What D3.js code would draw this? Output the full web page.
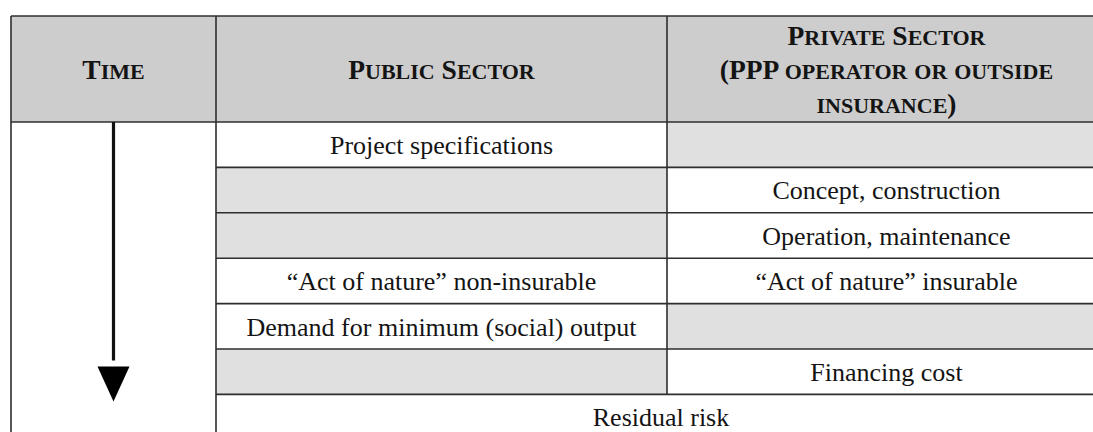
<!DOCTYPE html>
<html>
<head>
<meta charset="utf-8">
<script src="https://cdn.jsdelivr.net/npm/d3@7"></script>
<style>
  html, body { margin: 0; padding: 0; background: #fff; }
  svg { display: block; }
</style>
</head>
<body>
<svg id="chart" width="1093" height="432"></svg>
<script>
// ---- data ----
const headers = [["Time"], ["Public Sector"], ["Private Sector", "(PPP operator or outside", "insurance)"]];
const publicCells  = ["Project specifications", "", "", "\u201CAct of nature\u201D non-insurable", "Demand for minimum (social) output", ""];
const privateCells = ["", "Concept, construction", "Operation, maintenance", "\u201CAct of nature\u201D insurable", "", "Financing cost"];
const spanningRow  = "Residual risk";

// ---- layout ----
const svg = d3.select("#chart");
const colEdges = [11, 216, 667, 1106];
const headerTop = 16, headerBottom = 122, rowH = 45.4;
const nRows = publicCells.length + 1;
const y = d3.scaleLinear().domain([0, nRows]).range([headerBottom, headerBottom + nRows * rowH]);
const colX = i => colEdges[i];
const colMid = i => (colEdges[i] + colEdges[i + 1]) / 2;

const headerFill = "#cdcdcd", emptyFill = "#e0e0e0", lineCol = "#2e2e2e", textCol = "#141414";
const F = 26, HF = 27.5, SC = 0.8;

// header background
svg.append("rect").attr("x", colX(0)).attr("y", headerTop)
  .attr("width", colX(3) - colX(0)).attr("height", headerBottom - headerTop).attr("fill", headerFill);

// body cell backgrounds
const cells = [];
publicCells.forEach((t, i) => cells.push({row: i, col: 1, text: t}));
privateCells.forEach((t, i) => cells.push({row: i, col: 2, text: t}));
svg.selectAll("rect.cell").data(cells).join("rect").attr("class", "cell")
  .attr("x", d => colX(d.col)).attr("y", d => y(d.row))
  .attr("width", d => colX(d.col + 1) - colX(d.col)).attr("height", rowH)
  .attr("fill", d => d.text ? "#fff" : emptyFill);

// body text
svg.selectAll("text.cell").data(cells.filter(d => d.text)).join("text").attr("class", "cell")
  .attr("x", d => colMid(d.col)).attr("y", d => y(d.row) + rowH / 2 + 9.2)
  .attr("text-anchor", "middle").attr("font-family", "Liberation Serif, Times New Roman, serif")
  .attr("font-size", F).attr("fill", textCol).text(d => d.text);

// spanning row
svg.append("text").attr("x", (colX(1) + colX(3)) / 2).attr("y", y(nRows - 1) + rowH / 2 + 9.2)
  .attr("text-anchor", "middle").attr("font-family", "Liberation Serif, Times New Roman, serif")
  .attr("font-size", F).attr("fill", textCol).text(spanningRow);

// header text with small caps
function smallCapsSegments(s) {
  const segs = [];
  for (const ch of s) {
    const small = ch !== ch.toUpperCase();
    const last = segs[segs.length - 1];
    if (last && last.small === small) last.t += ch.toUpperCase();
    else segs.push({small, t: ch.toUpperCase()});
  }
  return segs;
}
const lineGap = 34;
headers.forEach((lines, ci) => {
  const mid = (headerTop + headerBottom) / 2;
  const firstBase = mid + 10 - (lines.length - 1) * lineGap / 2;
  lines.forEach((ln, li) => {
    const t = svg.append("text").attr("x", colMid(ci)).attr("y", firstBase + li * lineGap)
      .attr("text-anchor", "middle").attr("font-family", "Liberation Serif, Times New Roman, serif")
      .attr("font-weight", "bold").attr("fill", textCol).attr("font-size", HF);
    t.selectAll("tspan").data(smallCapsSegments(ln)).join("tspan")
      .attr("font-size", d => d.small ? HF * SC : HF).text(d => d.t);
  });
});

// grid lines
const g = svg.append("g").attr("stroke", lineCol).attr("stroke-width", 1.6).attr("fill", "none");
g.append("line").attr("x1", colX(0)).attr("x2", colX(3)).attr("y1", headerTop).attr("y2", headerTop);
g.append("line").attr("x1", colX(0)).attr("x2", colX(3)).attr("y1", headerBottom).attr("y2", headerBottom);
d3.range(1, nRows).forEach(i => {
  g.append("line").attr("x1", colX(1)).attr("x2", colX(3)).attr("y1", y(i)).attr("y2", y(i));
});
g.append("line").attr("x1", colX(0)).attr("x2", colX(0)).attr("y1", headerTop).attr("y2", y(nRows));
g.append("line").attr("x1", colX(1)).attr("x2", colX(1)).attr("y1", headerTop).attr("y2", y(nRows));
g.append("line").attr("x1", colX(2)).attr("x2", colX(2)).attr("y1", headerTop).attr("y2", y(nRows - 1));

// time arrow
const ax = colMid(0);
const arrowEnd = y(nRows - 1) - 34;
svg.append("line").attr("x1", ax).attr("x2", ax).attr("y1", headerBottom).attr("y2", arrowEnd)
  .attr("stroke", "#111").attr("stroke-width", 3.2);
const triTop = arrowEnd + 6, triH = 35, triW = 32;
svg.append("path")
  .attr("d", d3.line()([[ax - triW / 2, triTop], [ax + triW / 2, triTop], [ax, triTop + triH]]) + "Z")
  .attr("fill", "#000");
</script>
</body>
</html>
